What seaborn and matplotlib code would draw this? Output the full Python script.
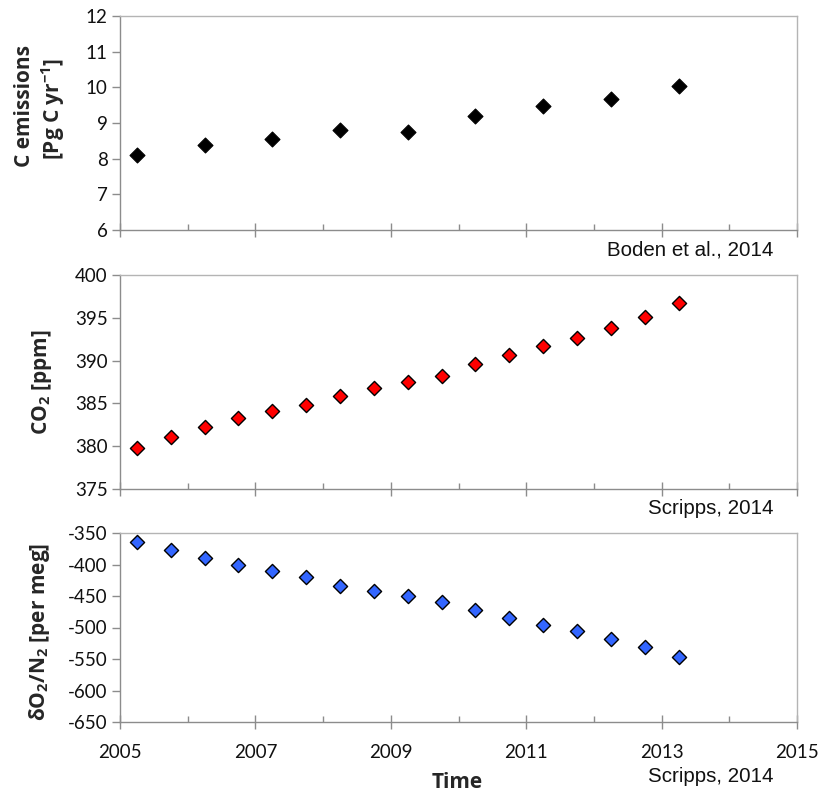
import matplotlib
matplotlib.use("Agg")
import matplotlib.pyplot as plt
import seaborn as sns
import pandas as pd
from matplotlib.ticker import MultipleLocator, FixedLocator

# ---- data ----
years_annual = [2005.25, 2006.25, 2007.25, 2008.25, 2009.25, 2010.25, 2011.25, 2012.25, 2013.25]
c_emissions = [8.09, 8.37, 8.56, 8.79, 8.74, 9.19, 9.47, 9.67, 10.04]

years_half = [2005.25, 2005.75, 2006.25, 2006.75, 2007.25, 2007.75, 2008.25, 2008.75, 2009.25,
              2009.75, 2010.25, 2010.75, 2011.25, 2011.75, 2012.25, 2012.75, 2013.25]
co2_ppm = [379.8, 381.1, 382.3, 383.3, 384.1, 384.85, 385.9, 386.8, 387.5,
           388.2, 389.55, 390.7, 391.7, 392.6, 393.8, 395.1, 396.7]
o2n2 = [-364.8, -377.6, -390.3, -400.9, -410.9, -420.5, -433.7, -442.7, -449.6,
        -459.2, -472.4, -484.6, -496.3, -505.3, -518.0, -530.7, -546.1]

x_major_ticks = [2005, 2007, 2009, 2011, 2013, 2015]
sources = ["Boden et al., 2014", "Scripps, 2014", "Scripps, 2014"]

df1 = pd.DataFrame({"year": years_annual, "val": c_emissions})
df2 = pd.DataFrame({"year": years_half, "val": co2_ppm})
df3 = pd.DataFrame({"year": years_half, "val": o2n2})

sns.set_theme(style="white")
plt.rcParams['font.family'] = ['Lato', 'DejaVu Sans']
plt.rcParams['axes.unicode_minus'] = False
plt.rcParams['mathtext.fontset'] = 'custom'
plt.rcParams['mathtext.bf'] = 'Open Sans:bold'
plt.rcParams['mathtext.rm'] = 'Open Sans:bold'
plt.rcParams['mathtext.it'] = 'Open Sans:bold'

W, H = 819, 799
fig = plt.figure(figsize=(W / 100, H / 100), dpi=100)

def ax_rect(l, t, r, b):
    return [l / W, 1 - b / H, (r - l) / W, (b - t) / H]

ax1 = fig.add_axes(ax_rect(120, 16, 797, 230))
ax2 = fig.add_axes(ax_rect(120, 275, 797, 489))
ax3 = fig.add_axes(ax_rect(120, 533, 797, 722))

sns.scatterplot(data=df1, x="year", y="val", ax=ax1, marker="D", s=58,
                color="black", edgecolor="black", linewidth=0.8, legend=False)
sns.scatterplot(data=df2, x="year", y="val", ax=ax2, marker="D", s=52,
                color="#FF0000", edgecolor="black", linewidth=1.0, legend=False)
sns.scatterplot(data=df3, x="year", y="val", ax=ax3, marker="D", s=52,
                color="#3366FF", edgecolor="black", linewidth=1.0, legend=False)

ylims = [(6, 12, 1), (375, 400, 5), (-650, -350, 50)]
for ax, (lo, hi, step) in zip([ax1, ax2, ax3], ylims):
    ax.set_xlim(2005, 2015)
    ax.set_ylim(lo, hi)
    ax.yaxis.set_major_locator(MultipleLocator(step))
    ax.xaxis.set_major_locator(FixedLocator(x_major_ticks))
    ax.xaxis.set_minor_locator(MultipleLocator(1))
    for side in ["top", "right"]:
        ax.spines[side].set_color("#b4b4b4")
        ax.spines[side].set_linewidth(1.0)
    for side in ["left", "bottom"]:
        ax.spines[side].set_color("#8c8c8c")
        ax.spines[side].set_linewidth(1.0)
    ax.tick_params(axis="x", which="major", direction="inout", length=10,
                   width=1, color="#8c8c8c", bottom=True)
    ax.tick_params(axis="x", which="minor", direction="in", length=4,
                   width=1, color="#8c8c8c", bottom=True)
    ax.tick_params(axis="y", which="major", direction="out", length=6,
                   width=1, color="#8c8c8c", left=True, labelsize=13.5, pad=3)
    ax.tick_params(axis="x", labelsize=13.5, pad=11)
    ax.set_xlabel("")
    ax.set_ylabel("")
    for lab in ax.get_yticklabels():
        lab.set_color("#111111")

ax1.tick_params(axis="x", labelbottom=False)
ax2.tick_params(axis="x", labelbottom=False)

for lab in ax3.get_xticklabels():
    lab.set_color("#111111")

lab_font = dict(family=["Open Sans", "DejaVu Sans"], fontweight="bold", fontsize=15)

# y labels
fig.text(25 / W, 1 - 106 / H, "C emissions", rotation=90, ha="center", va="center", **lab_font)
fig.text(53 / W, 1 - 109 / H, r"[Pg C yr$^{-1}$]", rotation=90, ha="center",
         va="center", **lab_font)
fig.text(42 / W, 1 - 382 / H, r"CO$_{2}$ [ppm]", rotation=90, ha="center",
         va="center", **lab_font)
fig.text(40 / W, 1 - 632 / H, r"δO$_{2}$/N$_{2}$ [per meg]", rotation=90,
         ha="center", va="center", **lab_font)

fig.text(457 / W, 1 - 782 / H, "Time", ha="center", va="center", **lab_font)

src_y = [250, 508, 777]
for txt, y in zip(sources, src_y):
    fig.text(773 / W, 1 - y / H, txt, ha="right", va="center", fontsize=14.8,
             family=["Liberation Sans", "DejaVu Sans"], color="#111111")

fig.savefig("out.png", dpi=100)
